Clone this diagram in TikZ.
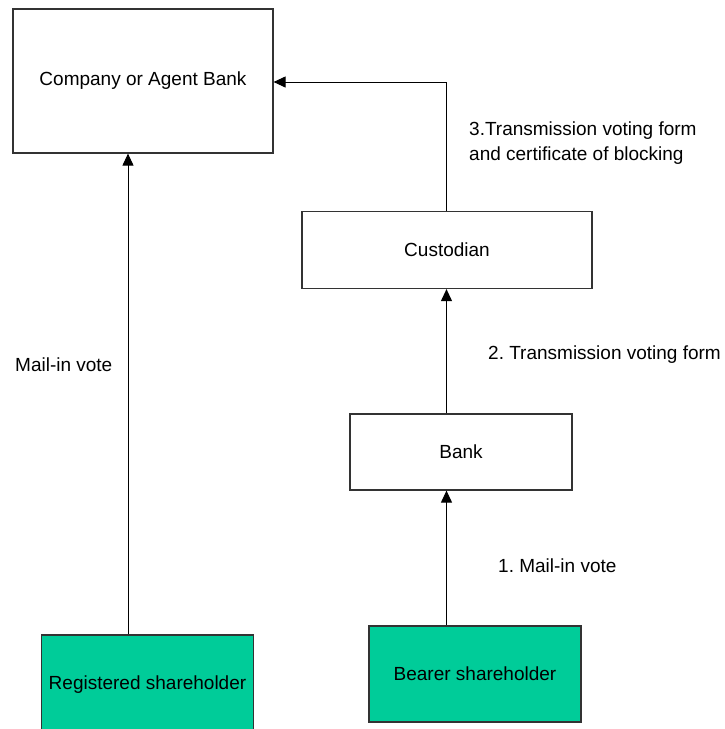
\documentclass[tikz,border=0pt]{standalone}
\usepackage{fontspec}
\setmainfont{Liberation Sans}
\usetikzlibrary{arrows.meta}
\definecolor{holder}{HTML}{00CC99}
\frenchspacing
\begin{document}
\begin{tikzpicture}[x=1pt,y=-1pt,
  font=\fontsize{19pt}{25pt}\selectfont,
  box/.style={draw=black!80, line width=1.2pt, inner sep=0pt, fill=white},
  holderbox/.style={box, fill=holder},
  flow/.style={line width=1pt, -{Triangle[length=12pt,width=11pt]}},
  note/.style={anchor=west, inner sep=0pt, align=left}]
  \clip (0,0) rectangle (725,729);
  \useasboundingbox (0,0) rectangle (725,729);

  % boxes
  \node[box, minimum width=260pt, minimum height=144pt] (company) at (143,81) {Company or Agent Bank};
  \node[box, minimum width=290pt, minimum height=77pt] (custodian) at (447,250) {Custodian};
  \node[box, minimum width=222pt, minimum height=76pt] (bank) at (461,452) {Bank};
  \node[holderbox, minimum width=212pt, minimum height=100pt] (registered) at (147.5,685) {Registered shareholder};
  \node[holderbox, minimum width=212pt, minimum height=96pt] (bearer) at (475,674) {Bearer shareholder};

  % connector columns
  \coordinate (leftcol) at (128,0);
  \coordinate (rightcol) at (446.5,0);
  \coordinate (bend) at (446.5,82);

  % connectors
  \draw[flow] (registered.north -| leftcol) -- (company.south -| leftcol);
  \draw[flow] (bearer.north -| rightcol) -- (bank.south -| rightcol);
  \draw[flow] (bank.north -| rightcol) -- (custodian.south -| rightcol);
  \draw[flow] (custodian.north -| rightcol) -- (bend) -- (bend -| company.east);

  % labels
  \node[note] (lreg) at (15,365) {Mail-in vote};
  \node[note] (l1) at (498,566) {1. Mail-in vote};
  \node[note] (l2) at (488,355) {2. Transmission voting form};
  \node[note] (l3) at (469,143.5) {3.Transmission voting form\\and certificate of blocking};
\end{tikzpicture}
\end{document}
